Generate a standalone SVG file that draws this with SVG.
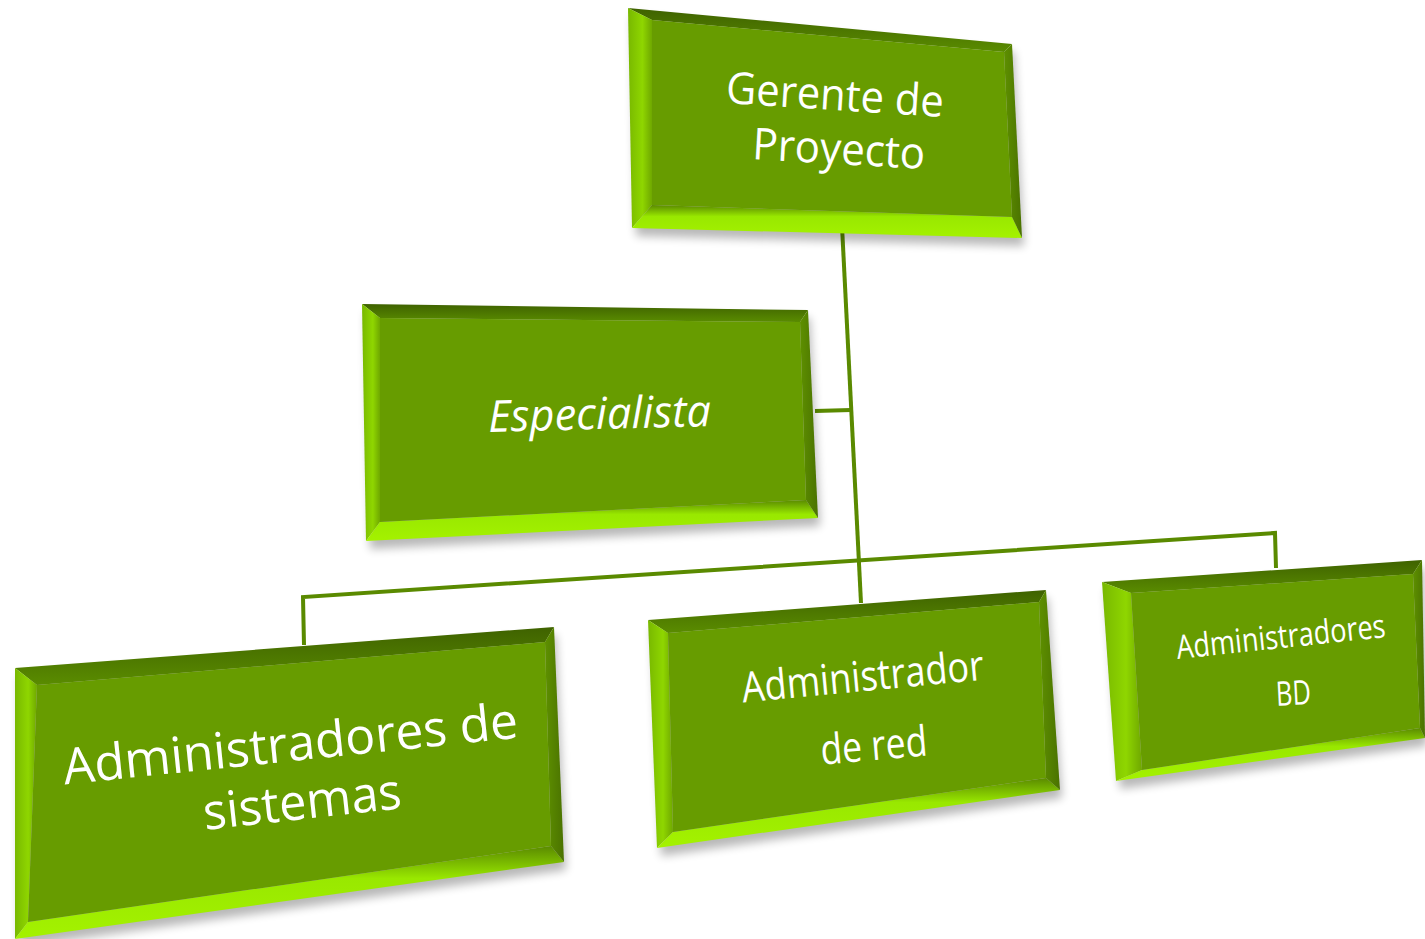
<svg xmlns="http://www.w3.org/2000/svg" width="1425" height="939" viewBox="0 0 1425 939">
<defs>
<filter id="sh" x="-10%" y="-10%" width="120%" height="130%"><feGaussianBlur stdDeviation="5"/></filter>
<linearGradient id="gTop" x1="0" y1="0" x2="0" y2="1"><stop offset="0" stop-color="#3f6200"/><stop offset="1" stop-color="#5a8c00"/></linearGradient>
<linearGradient id="gLeft" x1="0" y1="0" x2="1" y2="0"><stop offset="0" stop-color="#78b800"/><stop offset="0.6" stop-color="#8fd600"/><stop offset="1" stop-color="#6fa800"/></linearGradient>
<linearGradient id="gBottom" x1="0" y1="0" x2="0" y2="1"><stop offset="0" stop-color="#5a8a00"/><stop offset="0.35" stop-color="#99e800"/><stop offset="1" stop-color="#a4f200"/></linearGradient>
<linearGradient id="gRight" x1="0" y1="0" x2="1" y2="0"><stop offset="0" stop-color="#5e9000"/><stop offset="1" stop-color="#4a7200"/></linearGradient>
</defs>
<style>
.shadow{fill:#000;opacity:0.28;filter:url(#sh)}
.top{fill:url(#gTop)}
.left{fill:url(#gLeft)}
.bottom{fill:url(#gBottom)}
.right{fill:url(#gRight)}
.face{fill:#679c00}
.lbl{font-family:"Open Sans","Noto Sans",sans-serif;fill:#ffffff;text-anchor:middle}
.conn{fill:none;stroke:#5a8a00;stroke-width:4}
</style>
<rect width="1425" height="939" fill="#ffffff"/>
<g id="connectors">
<polyline class="conn" points="842,226 861,603"/>
<polyline class="conn" points="815,411 851,410"/>
<polyline class="conn" points="304,645 303,597 1275,533 1276,568"/>
</g>
<g id="node-gerente">
<polygon class="shadow" points="632,16 1014,52 1024,246 636,236"/>
<polygon class="top" points="628,8 1012,44 1004,52 652,20"/>
<polygon class="left" points="628,8 652,20 652,205 632,228"/>
<polygon class="bottom" points="632,228 652,205 1012,217 1022,238"/>
<polygon class="right" points="1012,44 1022,238 1012,217 1004,52"/>
<polygon class="face" points="652,20 1004,52 1012,217 652,205"/>
<text class="lbl" font-size="44" transform="rotate(3.7 834 110)" x="834" y="110" textLength="218" lengthAdjust="spacingAndGlyphs">Gerente de</text>
<text class="lbl" font-size="44" transform="rotate(3.3 838 164)" x="838" y="164" textLength="173" lengthAdjust="spacingAndGlyphs">Proyecto</text>
</g>
<g id="node-especialista">
<polygon class="shadow" points="366,312 810,318 820,526 370,549"/>
<polygon class="top" points="362,304 808,310 800,322 380,318"/>
<polygon class="left" points="362,304 380,318 380,522 366,541"/>
<polygon class="bottom" points="366,541 380,522 806,500 818,518"/>
<polygon class="right" points="808,310 818,518 806,500 800,322"/>
<polygon class="face" points="380,318 800,322 806,500 380,522"/>
<text class="lbl" font-size="44" font-style="italic" transform="rotate(-1.5 600 429)" x="600" y="429" textLength="223" lengthAdjust="spacingAndGlyphs">Especialista</text>
</g>
<g id="node-sistemas">
<polygon class="shadow" points="19,676 556,635 566,870 19,947"/>
<polygon class="top" points="15,668 554,627 545,642 37,685"/>
<polygon class="left" points="15,668 37,685 28,922 15,939"/>
<polygon class="bottom" points="15,939 28,922 551,846 564,862"/>
<polygon class="right" points="554,627 564,862 551,846 545,642"/>
<polygon class="face" points="37,685 545,642 551,846 28,922"/>
<text class="lbl" font-size="50" transform="rotate(-5.9 292 761)" x="292" y="761" textLength="457" lengthAdjust="spacingAndGlyphs">Administradores de</text>
<text class="lbl" font-size="50" transform="rotate(-6.3 304 819)" x="304" y="819" textLength="199" lengthAdjust="spacingAndGlyphs">sistemas</text>
</g>
<g id="node-red">
<polygon class="shadow" points="652,628 1048,598 1062,798 661,856"/>
<polygon class="top" points="648,620 1046,590 1039,602 668,633"/>
<polygon class="left" points="648,620 668,633 673,832 657,848"/>
<polygon class="bottom" points="657,848 673,832 1046,778 1060,790"/>
<polygon class="right" points="1046,590 1060,790 1046,778 1039,602"/>
<polygon class="face" points="668,633 1039,602 1046,778 673,832"/>
<text class="lbl" font-size="42" transform="rotate(-5.4 864 691)" x="864" y="691" textLength="243" lengthAdjust="spacingAndGlyphs">Administrador</text>
<text class="lbl" font-size="42" transform="rotate(-5 875 760)" x="875" y="760" textLength="107" lengthAdjust="spacingAndGlyphs">de red</text>
</g>
<g id="node-bd">
<polygon class="shadow" points="1106,590 1424,568 1427,746 1120,789"/>
<polygon class="top" points="1102,582 1422,560 1413,574 1131,593"/>
<polygon class="left" points="1102,582 1131,593 1142,770 1116,781"/>
<polygon class="bottom" points="1116,781 1142,770 1420,728 1425,738"/>
<polygon class="right" points="1422,560 1425,738 1420,728 1413,574"/>
<polygon class="face" points="1131,593 1413,574 1420,728 1142,770"/>
<text class="lbl" font-size="33" transform="rotate(-6 1282 648)" x="1282" y="648" textLength="210" lengthAdjust="spacingAndGlyphs">Administradores</text>
<text class="lbl" font-size="34" transform="rotate(-3 1294 705)" x="1294" y="705" textLength="35" lengthAdjust="spacingAndGlyphs">BD</text>
</g>
</svg>
